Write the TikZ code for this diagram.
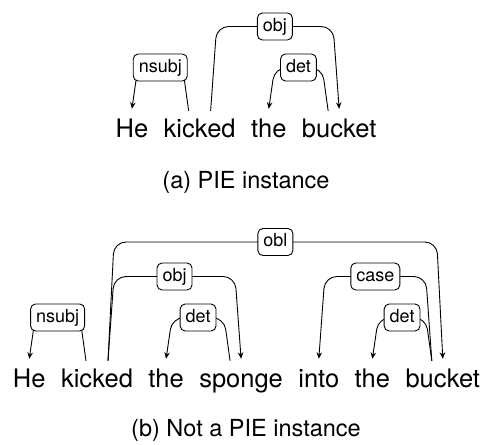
\documentclass[tikz,border=0pt]{standalone}
\usepackage{fontspec}
\setmainfont{TeX Gyre Heros}
\usetikzlibrary{matrix,arrows.meta}
\newcommand\wordfont{\fontsize{25.5}{30}\selectfont}
\newcommand\labfont{\fontsize{18}{21}\selectfont}
\newcommand\capfont{\fontsize{23.5}{28}\selectfont}
\tikzset{
  sentence/.style={matrix of nodes, column sep=15.5pt, inner sep=0pt,
    nodes={inner sep=0pt, text height=18pt, text depth=6pt, font=\wordfont}},
  depedge/.style={line width=0.9pt, rounded corners=12pt, -{Stealth[length=6.5pt,width=5.5pt]}},
  deplabel/.style={draw, fill=white, line width=0.9pt, rounded corners=5pt,
    inner xsep=5.5pt, inner ysep=5pt, text height=13pt, text depth=4pt, font=\labfont},
  caption/.style={anchor=base, font=\capfont, inner sep=0pt}
}
\newcommand{\depedge}[6]{%
  \coordinate (lv) at (0,#4);
  \draw[depedge] ([xshift={#2},yshift=8pt]#1.north)
    -- ([xshift={#2+(#5)}]#1.north |- lv)
    -- node[deplabel]{#6} ([xshift={-(#5)}]#3.north |- lv)
    -- ([yshift=10pt]#3.north);%
}
\begin{document}
\begin{tikzpicture}[x=1pt,y=-1pt]
\useasboundingbox (0,0) rectangle (486,444);
% (a)
\matrix (sa) [sentence] at (246,131) {He & kicked & the & bucket\\};
\depedge{sa-1-2}{-11pt}{sa-1-1}{67.5}{-6pt}{nsubj}
\depedge{sa-1-2}{11pt}{sa-1-4}{26.5}{6pt}{obj}
\depedge{sa-1-4}{-11pt}{sa-1-3}{67.5}{-6pt}{det}
\node[caption] (capa) at (246,188) {(a) PIE instance};
% (b)
\matrix (sb) [sentence] at (246.5,381) {He & kicked & the & sponge & into & the & bucket\\};
\depedge{sb-1-2}{-11pt}{sb-1-1}{317.5}{-6pt}{nsubj}
\depedge{sb-1-2}{11pt}{sb-1-4}{276.5}{6pt}{obj}
\depedge{sb-1-2}{11pt}{sb-1-7}{242}{6pt}{obl}
\depedge{sb-1-4}{-11pt}{sb-1-3}{317.5}{-6pt}{det}
\depedge{sb-1-7}{-11pt}{sb-1-5}{276.5}{-6pt}{case}
\depedge{sb-1-7}{-11pt}{sb-1-6}{317.5}{-6pt}{det}
\node[caption] (capb) at (246,436) {(b) Not a PIE instance};
\end{tikzpicture}
\end{document}
